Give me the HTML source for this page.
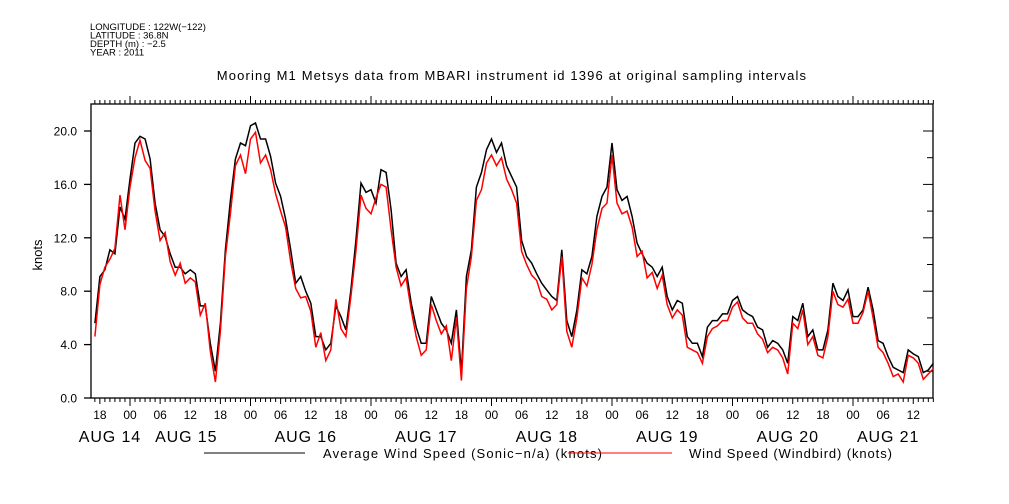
<!DOCTYPE html>
<html><head><meta charset="utf-8"><style>
html,body{margin:0;padding:0;background:#fff;}
svg{display:block;font-family:"Liberation Sans",sans-serif;}
</style></head><body>
<svg id="chart" width="1009" height="504" viewBox="0 0 1009 504">
<g font-size="9.5" fill="#000">
<text x="90" y="30">LONGITUDE : 122W(−122)</text>
<text x="90" y="38.5">LATITUDE : 36.8N</text>
<text x="90" y="47">DEPTH (m) : −2.5</text>
<text x="90" y="55.5">YEAR : 2011</text>
</g>
<text x="512" y="80" font-size="13" text-anchor="middle" letter-spacing="1.15">Mooring M1 Metsys data from MBARI instrument id 1396 at original sampling intervals</text>
<text x="0" y="0" font-size="13" text-anchor="middle" transform="translate(42,255) rotate(-90)">knots</text>
<g id="axes"></g>
<g id="series"></g>
<g font-size="13">
<line x1="204" y1="453" x2="305" y2="453" stroke="#000" stroke-width="1"/>
<text x="323" y="458" letter-spacing="1.15">Average Wind Speed (Sonic−n/a) (knots)</text>
<line x1="568" y1="453" x2="672" y2="453" stroke="#f00" stroke-width="1"/>
<text x="689" y="458" letter-spacing="0.9">Wind Speed (Windbird) (knots)</text>
</g>
</svg>
<script>
const startHour = -7;
const sonicValues = [5.6,9.1,9.6,11.1,10.8,14.3,13.4,16.4,19.1,19.6,19.4,17.9,14.6,12.6,12.1,10.8,9.8,9.8,9.3,9.6,9.3,6.9,6.9,4.1,2.0,5.6,11.1,14.8,17.9,19.1,18.9,20.4,20.6,19.4,19.4,18.1,16.1,15.1,13.4,11.1,8.6,9.1,8.0,
7.1,4.6,4.6,3.6,4.1,6.9,6.1,5.1,8.1,11.8,16.1,15.4,15.6,14.6,17.1,16.9,14.1,10.1,9.1,9.6,7.1,5.3,4.1,4.1,7.6,6.6,5.6,5.1,4.1,6.6,1.9,9.1,11.1,15.8,16.9,18.6,19.4,18.4,19.1,17.4,16.6,
15.8,11.8,10.6,10.1,9.3,8.6,8.1,7.6,7.3,11.1,5.8,4.6,6.6,9.6,9.3,10.6,13.6,15.1,15.8,19.1,15.6,14.8,15.1,13.6,11.6,10.8,10.1,9.8,9.1,9.8,7.6,6.6,7.3,7.1,4.6,4.1,4.1,3.1,5.3,5.8,5.8,6.3,
6.3,7.3,7.6,6.6,6.3,6.1,5.3,5.1,3.8,4.3,4.1,3.6,2.6,6.1,5.8,7.1,4.6,5.1,3.6,3.6,5.1,8.6,7.6,7.3,8.1,6.1,6.1,6.6,8.3,6.6,4.3,4.1,3.1,2.3,2.1,1.9,3.6,3.3,3.1,1.9,2.1,2.6];
const windbirdValues = [4.6,8.5,9.8,10.4,11.2,15.2,12.6,15.8,18.0,19.3,17.8,17.2,14.0,11.8,12.4,10.2,9.2,10.1,8.6,9.0,8.7,6.2,7.1,3.5,1.2,5.0,10.6,13.8,17.4,18.2,16.8,19.4,19.9,17.6,18.2,17.1,15.3,14.0,12.8,10.2,8.2,7.5,7.6,
6.5,3.8,4.9,2.8,3.6,7.4,5.2,4.6,7.6,11.0,15.2,14.2,13.8,15.0,16.0,15.8,12.6,9.8,8.4,9.0,6.6,4.6,3.2,3.6,7.0,5.8,4.8,5.4,2.8,6.0,1.3,8.2,10.6,14.8,15.6,17.6,18.2,17.4,18.0,16.4,15.6,
14.6,11.0,10.0,9.2,8.8,7.6,7.4,6.6,7.0,10.6,5.0,3.8,6.0,9.0,8.4,10.0,12.6,14.2,14.6,18.2,14.6,13.8,14.0,12.8,10.6,11.0,9.0,9.4,8.2,9.2,7.0,6.0,6.6,6.2,3.8,3.6,3.4,2.6,4.6,5.2,5.4,5.8,
5.8,6.8,7.2,6.0,5.6,5.6,4.8,4.4,3.4,3.8,3.6,3.0,1.8,5.6,5.2,6.6,4.0,4.6,3.2,3.0,4.6,8.0,7.0,6.8,7.4,5.6,5.6,6.4,8.0,6.0,3.8,3.4,2.6,1.6,1.8,1.2,3.2,3.0,2.6,1.4,1.8,2.2];
const yTickValues = [0,4,8,12,16,20];
const yTickLabels = ["0.0","4.0","8.0","12.0","16.0","20.0"];
const hourLabels = ["18","00","06","12"];
const dateLabels = ["AUG 14","AUG 15","AUG 16","AUG 17","AUG 18","AUG 19","AUG 20","AUG 21"];
const dateLabelHours = [-4,11.2,35,59,83,107,131,151];

const X0=91, X1=933, Y0=398, YTOP=104;
function xs(h){return 130 + h*120.5/24;}
function ys(v){return 398 - v*13.35;}
const NS='http://www.w3.org/2000/svg';
const axes=document.getElementById('axes');
function mk(tag,attrs,parent){const e=document.createElementNS(NS,tag);for(const k in attrs)e.setAttribute(k,attrs[k]);parent.appendChild(e);return e;}

const frame=mk('rect',{x:X0,y:YTOP,width:X1-X0,height:Y0-YTOP,fill:'none',stroke:'#000','stroke-width':1.3},axes);



for(let v=0; v<=21; v+=2){
  const y=ys(v);
  const major = v%4===0;
  const t=mk('line',{x1:X1-(major?10:6),x2:X1,y1:y,y2:y,stroke:'#000','stroke-width':1},axes);
  
  
}
yTickValues.forEach((v,i)=>{
  const y=ys(v);
  const t=mk('line',{x1:X0-7,x2:X0,y1:y,y2:y,stroke:'#000','stroke-width':1.3},axes);
  
  
  const l=mk('text',{x:77,y:y+4.5,'font-size':12,'text-anchor':'end'},axes);
  l.textContent=yTickLabels[i];
  
  
});

for(let h=Math.ceil((X0-130)/(120.5/24)); xs(h)<=X1+0.5; h++){
  const x=xs(h);
  const mod=((h%24)+24)%24;
  const major = mod===0;
  const mid = mod%6===0;
  const lenB = major?8:(mid?6:4);
  const b=mk('line',{x1:x,x2:x,y1:Y0,y2:Y0+lenB,stroke:'#000','stroke-width':1},axes);
  
  
  const t=mk('line',{x1:x,x2:x,y1:YTOP,y2:YTOP-(major?8:4),stroke:'#000','stroke-width':1},axes);
  
  
  if(mid){
    const idx=[18,0,6,12].indexOf(mod);
    const l=mk('text',{x:x,y:419,'font-size':12,'text-anchor':'middle'},axes);
    l.textContent=hourLabels[idx];
    
    
  }
}
dateLabels.forEach((d,i)=>{
  const l=mk('text',{x:xs(dateLabelHours[i]),y:442,'font-size':16,'text-anchor':'middle','letter-spacing':'0.9'},axes);
  l.textContent=d;
  
  
});

const series=document.getElementById('series');
function drawLine(vals,color,name){
  const pts=vals.map((v,i)=>xs(startHour+i).toFixed(1)+','+ys(v).toFixed(1)).join(' ');
  const p=mk('polyline',{points:pts,fill:'none',stroke:color,'stroke-width':1.5,'stroke-linejoin':'miter'},series);
  
  
}
drawLine(sonicValues,'#000','sonic-wind-line');
drawLine(windbirdValues,'#f00','windbird-wind-line');
</script>
</body></html>
